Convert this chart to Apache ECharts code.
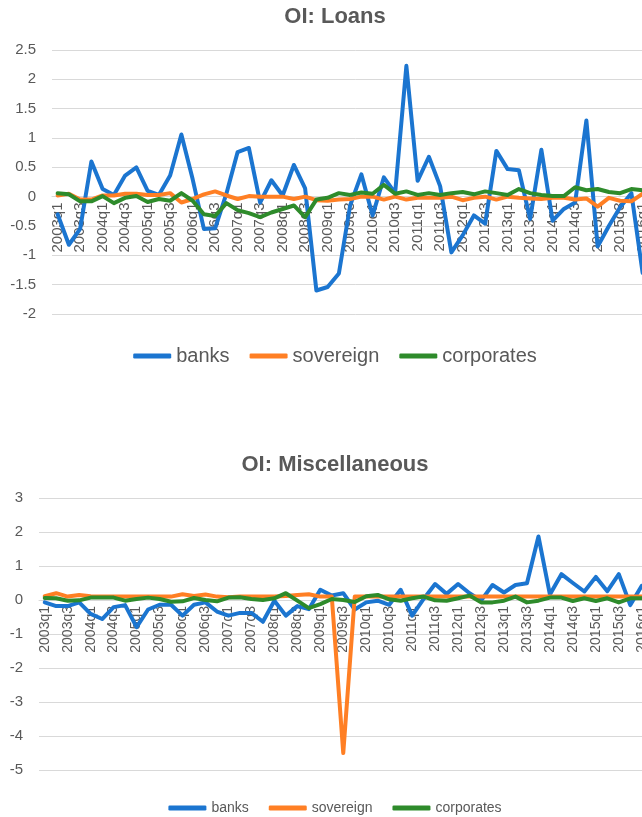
<!DOCTYPE html>
<html>
<head>
<meta charset="utf-8">
<title>OI: Loans / Miscellaneous</title>
<script src="https://cdn.jsdelivr.net/npm/echarts@6/dist/echarts.min.js"></script>
<style>
  html, body { margin: 0; padding: 0; background: #fff; overflow: hidden; }
  #chart { width: 670px; height: 817px; }
</style>
</head>
<body>
<div id="chart"></div>
<script>
// quarters 2003q1 .. 2016q2
var quarters = []
for (var y = 2003; y <= 2016; y++) {
  for (var q = 1; q <= 4; q++) {
    if (y === 2016 && q > 2) break
    quarters.push(y + 'q' + q)
  }
}

// OI: Loans
var loansBanks = [-0.3, -0.82, -0.55, 0.6, 0.13, 0.03, 0.36, 0.5, 0.1, 0.03,
  0.36, 1.06, 0.3, -0.55, -0.54, 0.05, 0.76, 0.83, -0.1, 0.28,
  0.02, 0.54, 0.14, -1.6, -1.54, -1.31, -0.15, 0.38, -0.32, 0.33,
  0.06, 2.23, 0.27, 0.68, 0.18, -0.95, -0.66, -0.32, -0.46, 0.78,
  0.47, 0.45, -0.38, 0.8, -0.41, -0.21, -0.1, 1.3, -0.85, -0.5,
  -0.18, 0.06, -1.3, -0.4]
var loansSovereign = [0.02, 0.05, -0.05, -0.05, 0.02, 0.02, 0.05, 0.05, 0.03, 0.03,
  0.06, -0.1, -0.04, 0.04, 0.09, 0.02, -0.04, 0.01, 0.0, 0.0,
  0.0, -0.04, 0.0, -0.06, -0.07, -0.05, -0.04, 0.0, 0.0, -0.05,
  0.0, -0.05, -0.02, -0.02, -0.02, 0.0, -0.06, -0.02, 0.0, -0.05,
  0.0, -0.02, -0.03, -0.04, -0.02, -0.02, -0.05, -0.03, -0.17, -0.02,
  -0.07, -0.08, 0.05, 0.0]
var loansCorporates = [0.06, 0.04, -0.08, -0.08, 0.01, -0.11, -0.02, 0.01, -0.09, -0.04,
  -0.07, 0.06, -0.07, -0.3, -0.33, -0.11, -0.23, -0.28, -0.35, -0.27,
  -0.21, -0.15, -0.35, -0.05, -0.02, 0.06, 0.03, 0.07, 0.05, 0.2,
  0.05, 0.09, 0.03, 0.06, 0.03, 0.06, 0.08, 0.04, 0.09, 0.06,
  0.03, 0.13, 0.06, 0.03, 0.01, 0.01, 0.16, 0.11, 0.13, 0.08,
  0.06, 0.13, 0.11, 0.1]

// OI: Miscellaneous
var miscBanks = [-0.07, -0.18, -0.18, -0.07, -0.41, -0.56, -0.21, -0.15, -0.8, -0.28,
  -0.14, -0.14, -0.46, -0.14, -0.07, -0.34, -0.46, -0.38, -0.38, -0.64,
  -0.02, -0.46, -0.18, -0.27, 0.3, 0.13, 0.2, -0.28, -0.07, -0.02,
  -0.14, 0.3, -0.46, 0.03, 0.47, 0.18, 0.47, 0.2, -0.02, 0.44,
  0.22, 0.44, 0.49, 1.87, 0.16, 0.76, 0.5, 0.25, 0.68, 0.26,
  0.76, -0.15, 0.42, 0.3]
var miscSovereign = [0.11, 0.2, 0.1, 0.15, 0.11, 0.1, 0.1, 0.1, 0.1, 0.1,
  0.1, 0.1, 0.17, 0.12, 0.16, 0.1, 0.08, 0.1, 0.1, 0.1,
  0.1, 0.12, 0.15, 0.17, 0.1, 0.1, -4.5, 0.1, 0.1, 0.1,
  0.1, 0.1, 0.1, 0.1, 0.1, 0.1, 0.1, 0.1, 0.1, 0.1,
  0.1, 0.1, 0.1, 0.1, 0.1, 0.1, 0.1, 0.1, 0.1, 0.1,
  0.1, 0.1, 0.1, 0.1]
var miscCorporates = [0.06, 0.05, -0.02, -0.01, 0.07, 0.07, 0.07, -0.02, 0.03, 0.07,
  0.03, -0.05, -0.04, 0.06, 0.0, -0.04, 0.07, 0.08, 0.03, 0.0,
  0.05, 0.2, -0.02, -0.24, -0.12, 0.03, 0.0, -0.06, 0.11, 0.15,
  0.02, -0.02, 0.05, 0.1, -0.01, -0.02, 0.05, 0.13, -0.07, -0.07,
  -0.02, 0.1, -0.07, -0.02, 0.07, 0.07, -0.03, 0.05, -0.03, 0.05,
  -0.07, 0.05, 0.05, 0.05]

var seriesNames = ['banks', 'sovereign', 'corporates']
var colors = ['#1b75d0', '#ff7f24', '#2e8b2b']
var textColor = '#595959'
var gridColor = '#d9d9d9'
var font = 'Liberation Sans'

function lineSeries(name, data, idx, color) {
  return {
    name: name,
    type: 'line',
    xAxisIndex: idx,
    yAxisIndex: idx,
    data: data,
    symbol: 'none',
    color: color,
    lineStyle: { width: 4, color: color, join: 'round', cap: 'round' }
  }
}

// labels sit just under the zero line, so the axis is lifted from the grid bottom
function xAxisFor(idx, size, lift) {
  return {
    gridIndex: idx,
    type: 'category',
    data: quarters,
    boundaryGap: true,
    offset: -lift,
    axisLine: { onZero: false, lineStyle: { color: gridColor } },
    axisTick: { show: false },
    axisLabel: { interval: 1, rotate: 90, fontSize: size, color: textColor, fontFamily: font, margin: 6 }
  }
}

function yAxisFor(idx, min, max, step) {
  return {
    gridIndex: idx,
    type: 'value',
    min: min,
    max: max,
    interval: step,
    axisLine: { show: false },
    axisTick: { show: false },
    axisLabel: { fontSize: 15, color: textColor, fontFamily: font, margin: 16 },
    splitLine: { lineStyle: { color: gridColor, width: 1 } }
  }
}

var chart = echarts.init(document.getElementById('chart'))
chart.setOption({
  animation: false,
  backgroundColor: '#fff',
  title: [{
    text: 'OI: Loans',
    left: 'center',
    top: 1,
    textStyle: { fontSize: 22, fontWeight: 'bold', color: textColor, fontFamily: font }
  }, {
    text: 'OI: Miscellaneous',
    left: 'center',
    top: 449,
    textStyle: { fontSize: 22, fontWeight: 'bold', color: textColor, fontFamily: font }
  }],
  legend: [{
    data: seriesNames,
    left: 'center',
    top: 341,
    icon: 'roundRect',
    itemWidth: 38,
    itemHeight: 5,
    itemGap: 20,
    textStyle: { fontSize: 20, color: textColor, fontFamily: font }
  }, {
    data: seriesNames,
    left: 'center',
    top: 796,
    icon: 'roundRect',
    itemWidth: 38,
    itemHeight: 5,
    itemGap: 20,
    textStyle: { fontSize: 14, color: textColor, fontFamily: font, letterSpacing: 0.6 }
  }],
  grid: [
    { left: 52, top: 50, width: 607.5, height: 264 },
    { left: 39, top: 498, width: 620, height: 272 }
  ],
  xAxis: [xAxisFor(0, 15, 117.5), xAxisFor(1, 14, 170)],
  yAxis: [yAxisFor(0, -2, 2.5, 0.5), yAxisFor(1, -5, 3, 1)],
  series: [
    lineSeries('banks', loansBanks, 0, colors[0]),
    lineSeries('sovereign', loansSovereign, 0, colors[1]),
    lineSeries('corporates', loansCorporates, 0, colors[2]),
    lineSeries('banks', miscBanks, 1, colors[0]),
    lineSeries('sovereign', miscSovereign, 1, colors[1]),
    lineSeries('corporates', miscCorporates, 1, colors[2])
  ]
})
</script>
</body>
</html>
